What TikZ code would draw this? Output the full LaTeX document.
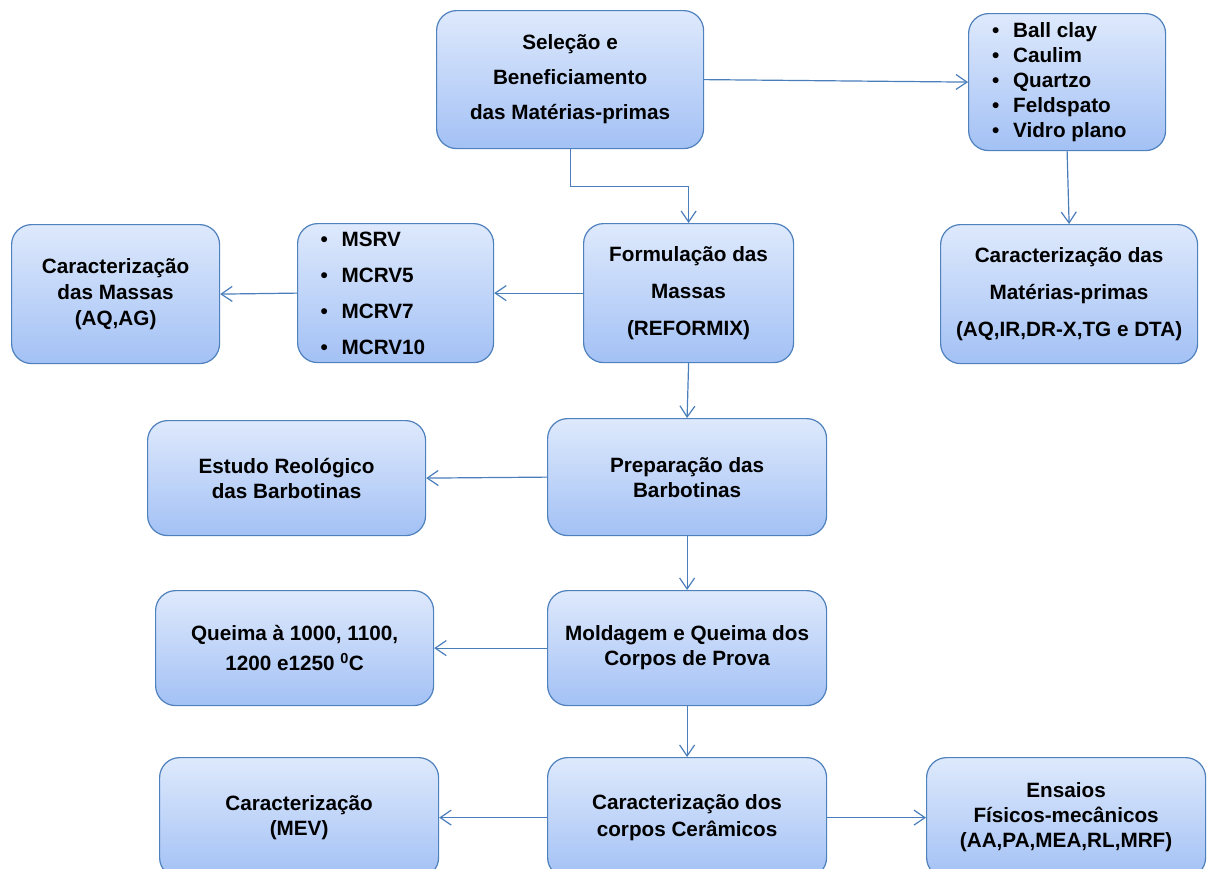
\documentclass[tikz,border=0pt]{standalone}
\usepackage{fontspec}
\setmainfont{Liberation Sans}
\usetikzlibrary{arrows.meta}
\definecolor{boxline}{RGB}{79,129,189}
\definecolor{boxtop}{RGB}{222,233,252}
\definecolor{boxbottom}{RGB}{163,193,245}
\definecolor{linkline}{RGB}{74,126,187}
\newcommand{\bul}[1]{\makebox[150pt][l]{\makebox[21pt][l]{\textbullet}#1}}
\tikzset{
    etapa/.style={anchor=north west,draw=boxline,line width=1.2pt,rounded corners=20pt,
        top color=boxtop,bottom color=boxbottom,inner sep=0pt,align=center,
        font=\bfseries\fontsize{20.7}{25}\selectfont},
    seta/.style={draw=linkline,line width=1.2pt,-{Straight Barb[length=11pt,width=15pt]}}
}
\begin{document}
\begin{tikzpicture}[x=1pt,y=1pt]
    \useasboundingbox (0,0) rectangle (1209,-868);
    \clip (0,0) rectangle (1209,-868);

    \node[etapa,minimum width=267pt,minimum height=138pt] (sel) at (436,-10) {Seleção e\\[10pt] Beneficiamento\\[10pt] das Matérias-primas};
    \node[etapa,minimum width=197pt,minimum height=137pt] (raw) at (968,-13) {\bul{Ball clay}\\ \bul{Caulim}\\ \bul{Quartzo}\\ \bul{Feldspato}\\ \bul{Vidro plano}};
    \node[etapa,minimum width=210pt,minimum height=139pt] (form) at (583,-223) {Formulação das\\[12pt] Massas\\[12pt] (REFORMIX)};
    \node[etapa,minimum width=257pt,minimum height=139pt] (carmp) at (940,-224) {Caracterização das\\[12pt] Matérias-primas\\[12pt] (AQ,IR,DR-X,TG e DTA)};
    \node[etapa,minimum width=196pt,minimum height=139pt] (msrv) at (297,-223) {\bul{MSRV}\\[11pt] \bul{MCRV5}\\[11pt] \bul{MCRV7}\\[11pt] \bul{MCRV10}};
    \node[etapa,minimum width=208pt,minimum height=139pt] (cmass) at (11,-224) {Caracterização\\[1pt] das Massas\\[1pt] (AQ,AG)};

    \node[etapa,minimum width=279pt,minimum height=117pt] (prep) at (547,-418) {Preparação das\\ Barbotinas};
    \node[etapa,minimum width=278pt,minimum height=115pt] (reol) at (147,-420) {Estudo Reológico\\ das Barbotinas};
    \node[etapa,minimum width=279pt,minimum height=115pt] (mold) at (547,-590) {Moldagem e Queima dos\\ Corpos de Prova};
    \node[etapa,minimum width=278pt,minimum height=115pt] (queima) at (155,-590) {Queima à 1000, 1100,\\[5pt] 1200 e1250 \textsuperscript{0}C};

    \node[etapa,minimum width=279pt,minimum height=120pt] (corpos) at (547,-757) {Caracterização dos\\[2pt] corpos Cerâmicos};
    \node[etapa,minimum width=279pt,minimum height=120pt] (mev) at (159,-757) {Caracterização\\ (MEV)};
    \node[etapa,minimum width=279pt,minimum height=120pt] (ensaios) at (926,-757) {Ensaios\\ Físicos-mecânicos\\ (AA,PA,MEA,RL,MRF)};

    \draw[seta] (sel.east) -- (raw.west);
    \draw[seta] (sel.south) -- ++(0,-37) -| (form.north);
    \draw[seta] (raw.south) -- (carmp.north);
    \draw[seta] (form.west) -- (msrv.east);
    \draw[seta] (msrv.west) -- (cmass.east);
    \draw[seta] (form.south) -- (prep.north);
    \draw[seta] (prep.west) -- (reol.east);
    \draw[seta] (prep.south) -- (mold.north);
    \draw[seta] (mold.west) -- (queima.east);
    \draw[seta] (mold.south) -- (corpos.north);
    \draw[seta] (corpos.west) -- (mev.east);
    \draw[seta] (corpos.east) -- (ensaios.west);
\end{tikzpicture}
\end{document}
